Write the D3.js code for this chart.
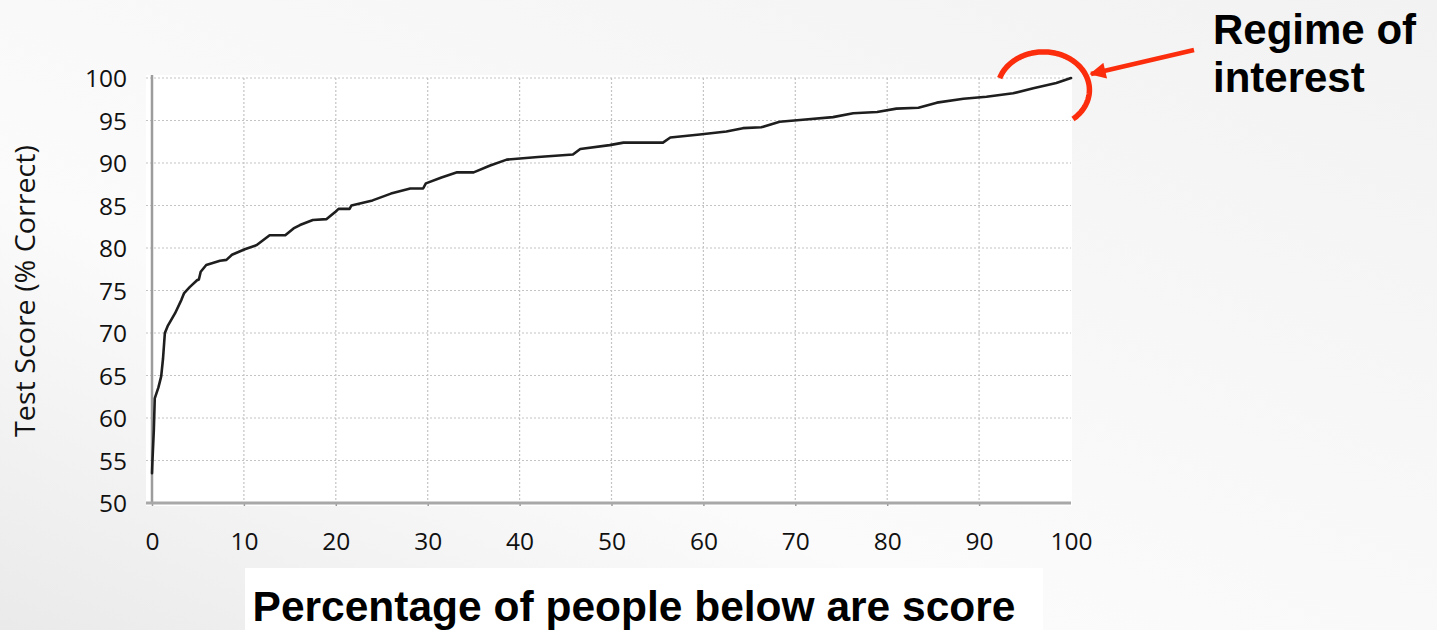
<!DOCTYPE html>
<html>
<head>
<meta charset="utf-8">
<script src="https://cdn.jsdelivr.net/npm/d3@7"></script>
<style>
  body { margin: 0; background: #f4f4f4; }
  svg { display: block; }
  .tick text { font-family: "Open Sans", sans-serif; fill: #111; }
</style>
</head>
<body>
<svg id="chart" width="1437" height="630"></svg>
<script>
// values, x = % of people below, y = test score
const pctBelow  = [0, 0.05, 0.2, 0.3, 0.7, 1.0, 1.2, 1.4, 1.7, 2.5, 3.2, 3.5, 4.1, 4.9, 5.1, 5.3, 5.9, 7.4, 8.1, 8.7,
                   10.1, 11.4, 12.8, 14.5, 15.4, 16.1, 17.5, 19.0, 20.0, 20.3, 21.5, 21.7, 24.0, 26.0, 28.1, 29.5, 29.8,
                   31.5, 33.2, 35.0, 36.8, 38.6, 42.0, 45.8, 46.6, 49.8, 51.3, 55.6, 56.4, 59.6, 62.5, 64.3, 66.3,
                   68.3, 70.5, 74.1, 76.3, 78.9, 81.0, 83.4, 85.4, 88.3, 90.8, 93.7, 95.9, 98.4, 100]
const testScore = [53.5, 55.0, 58.6, 62.3, 63.6, 64.9, 67.0, 70.0, 70.8, 72.3, 73.9, 74.7, 75.4, 76.2, 76.3, 77.2, 78.0, 78.5, 78.6, 79.2,
                   79.85, 80.35, 81.5, 81.5, 82.3, 82.7, 83.3, 83.4, 84.3, 84.6, 84.6, 85.0, 85.6, 86.4, 87.0, 87.0, 87.6,
                   88.3, 88.9, 88.9, 89.7, 90.4, 90.7, 91.0, 91.65, 92.1, 92.4, 92.4, 93.0, 93.35, 93.7, 94.1, 94.2,
                   94.85, 95.05, 95.4, 95.85, 96.0, 96.4, 96.5, 97.1, 97.55, 97.8, 98.2, 98.8, 99.4, 100]
const xTicks = [0, 10, 20, 30, 40, 50, 60, 70, 80, 90, 100]
const yTicks = [50, 55, 60, 65, 70, 75, 80, 85, 90, 95, 100]
const regimeCenter = [97.0, 98.6]   // where the red ring sits, in data units

const svg = d3.select("#chart")
const W = 1437, H = 630
const plotL = 152, plotR = 1071, plotT = 78, plotB = 503

// slide background, light grey with a soft diagonal sheen
const defs = svg.append("defs")
const bg = defs.append("linearGradient").attr("id", "bg")
  .attr("x1", "0%").attr("y1", "100%").attr("x2", "100%").attr("y2", "0%")
bg.append("stop").attr("offset", "0%").attr("stop-color", "#eaeaea")
bg.append("stop").attr("offset", "35%").attr("stop-color", "#fbfbfb")
bg.append("stop").attr("offset", "65%").attr("stop-color", "#f7f7f7")
bg.append("stop").attr("offset", "100%").attr("stop-color", "#f2f2f2")
svg.append("rect").attr("width", W).attr("height", H).attr("fill", "url(#bg)")

const x = d3.scaleLinear().domain([0, 100]).range([plotL, plotR])
const y = d3.scaleLinear().domain([50, 100]).range([plotB, plotT])

// white chart panel + white box behind the x title
svg.append("rect").attr("x", plotL - 6).attr("y", plotT - 3)
  .attr("width", plotR - plotL + 7).attr("height", plotB - plotT + 6).attr("fill", "#fff")
svg.append("rect").attr("x", 245).attr("y", 568).attr("width", 798).attr("height", 62).attr("fill", "#fff")

// grid, dotted
const grid = svg.append("g").attr("stroke", "#c4c4c4").attr("stroke-width", 1.2).attr("stroke-dasharray", "2,2")
grid.selectAll(".h").data(yTicks.filter(d => d > 50)).join("line")
  .attr("x1", plotL - 6).attr("x2", plotR).attr("y1", d => y(d)).attr("y2", d => y(d))
grid.selectAll(".v").data(xTicks.filter(d => d > 0 && d < 100)).join("line")
  .attr("y1", plotT).attr("y2", plotB).attr("x1", d => x(d)).attr("x2", d => x(d))

// axes
const yAxis = svg.append("g").attr("transform", `translate(${plotL},0)`)
  .call(d3.axisLeft(y).tickValues(yTicks).tickSize(0).tickPadding(25))
const xAxis = svg.append("g").attr("transform", `translate(0,${plotB})`)
  .call(d3.axisBottom(x).tickValues(xTicks).tickSize(3).tickPadding(27))
yAxis.select(".domain").remove()
xAxis.select(".domain").remove()
yAxis.selectAll(".tick text").attr("font-size", 24.5).attr("dy", "0.36em")
xAxis.selectAll(".tick text").attr("font-size", 24.5)
xAxis.selectAll(".tick line").attr("stroke", "#999").attr("stroke-width", 1.5)
xAxis.selectAll(".tick").filter(d => d === 100).select("line").remove()

svg.append("line").attr("x1", plotL).attr("x2", plotL).attr("y1", plotT - 3).attr("y2", plotB)
  .attr("stroke", "#9c9c9c").attr("stroke-width", 2.5)
svg.append("line").attr("x1", plotL - 6).attr("x2", plotR).attr("y1", plotB).attr("y2", plotB)
  .attr("stroke", "#a8a8a8").attr("stroke-width", 3)

// the curve
const pts = pctBelow.map((p, i) => [p, testScore[i]])
svg.append("path").datum(pts)
  .attr("fill", "none").attr("stroke", "#1e1e1e").attr("stroke-width", 2.6)
  .attr("stroke-linejoin", "round").attr("stroke-linecap", "round")
  .attr("d", d3.line().x(d => x(d[0])).y(d => y(d[1])))

// titles
svg.append("text").attr("transform", `translate(35,291) rotate(-90)`)
  .attr("text-anchor", "middle").attr("font-family", "Open Sans, sans-serif")
  .attr("font-size", 27).attr("fill", "#111")
  .attr("textLength", 292).attr("lengthAdjust", "spacingAndGlyphs")
  .text("Test Score (% Correct)")
svg.append("text").attr("x", 634).attr("y", 621).attr("text-anchor", "middle")
  .attr("font-family", "Liberation Sans, Arial, sans-serif").attr("font-weight", "bold")
  .attr("font-size", 42.5).attr("fill", "#000").text("Percentage of people below are score")

// annotation: red ring + arrow + label
const red = "#fb2d0c"
const cx = x(regimeCenter[0]), cy = y(regimeCenter[1]), rx = 46, ry = 38
const ring = d3.range(198, 411, 2).map(t => [cx + rx * Math.cos(t * Math.PI / 180), cy + ry * Math.sin(t * Math.PI / 180)])
svg.append("path").attr("d", d3.line()(ring)).attr("fill", "none")
  .attr("stroke", red).attr("stroke-width", 5.5).attr("stroke-linecap", "butt")

defs.append("marker").attr("id", "head").attr("viewBox", "0 0 10 10")
  .attr("refX", 9).attr("refY", 5).attr("markerWidth", 4.2).attr("markerHeight", 3.6)
  .attr("orient", "auto").attr("markerUnits", "strokeWidth")
  .append("path").attr("d", "M0,0 L10,5 L0,10 z").attr("fill", red)
svg.append("line").attr("x1", 1194).attr("y1", 50).attr("x2", 1091).attr("y2", 74)
  .attr("stroke", red).attr("stroke-width", 4.5).attr("marker-end", "url(#head)")

const lbl = svg.append("text").attr("font-family", "Liberation Sans, Arial, sans-serif")
  .attr("font-weight", "bold").attr("font-size", 42).attr("fill", "#000")
lbl.append("tspan").attr("x", 1213).attr("y", 44).text("Regime of")
lbl.append("tspan").attr("x", 1213).attr("y", 92).text("interest")
</script>
</body>
</html>
